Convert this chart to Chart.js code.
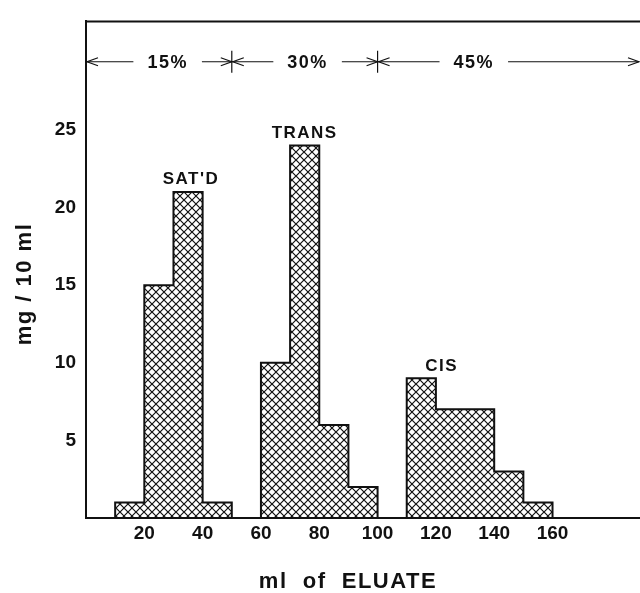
<!DOCTYPE html>
<html>
<head>
<meta charset="utf-8">
<script src="https://cdn.jsdelivr.net/npm/chart.js@4.4.0/dist/chart.umd.min.js"></script>
<style>
html, body { margin: 0; padding: 0; background: #fff; }
#wrap { width: 640px; height: 593px; }
</style>
</head>
<body>
<div id="wrap"><canvas id="grafico"></canvas></div>
<script>
// Frações de 10 ml: x = início da fração (ml), y = mg / 10 ml
const binWidth = 10;
const satdBins = [10, 20, 30, 40];
const satdMg = [1, 15, 21, 1];
const transBins = [60, 70, 80, 90];
const transMg = [10, 24, 6, 2];
const cisBins = [110, 120, 130, 140, 150];
const cisMg = [9, 7, 7, 3, 1];

const xTicks = [20, 40, 60, 80, 100, 120, 140, 160];
const yTicks = [5, 10, 15, 20, 25];

// Faixas de solvente no topo
const solventLabels = ['15%', '30%', '45%'];
const solventFrom = [0, 50, 100];
const solventTo = [50, 100, 190];
const solventTextAt = [28, 76, 133];

const groupNames = ["SAT'D", 'TRANS', 'CIS'];
const groupLabelAt = [36, 75, 122];
const groupMg = [satdMg, transMg, cisMg];

const FONTE = '"Liberation Sans", Arial, sans-serif';

// Padrão quadriculado (hachura cruzada)
function hachura() {
    const c = document.createElement('canvas');
    c.width = 8;
    c.height = 8;
    const g = c.getContext('2d');
    g.strokeStyle = '#111';
    g.lineWidth = 1.2;
    g.beginPath();
    g.moveTo(-1, -1); g.lineTo(9, 9);
    g.moveTo(9, -1); g.lineTo(-1, 9);
    g.stroke();
    return g.createPattern(c, 'repeat');
}

// Contorno do histograma a partir das frações
function contorno(bins, mg) {
    const pts = [{ x: bins[0], y: 0 }];
    bins.forEach((b, i) => pts.push({ x: b, y: mg[i] }));
    pts.push({ x: bins[bins.length - 1] + binWidth, y: 0 });
    return pts;
}

function serie(nome, bins, mg) {
    return {
        label: nome,
        data: contorno(bins, mg),
        stepped: 'before',
        borderColor: '#111',
        borderWidth: 2,
        backgroundColor: hachura(),
        fill: 'origin',
        pointRadius: 0,
        tension: 0
    };
}

function seta(ctx, x, y, dir) {
    ctx.beginPath();
    ctx.moveTo(x - dir * 11, y - 4);
    ctx.lineTo(x, y);
    ctx.lineTo(x - dir * 11, y + 4);
    ctx.stroke();
}

const anotacoes = {
    id: 'anotacoes',
    afterDatasetsDraw(chart) {
        const ctx = chart.ctx;
        const area = chart.chartArea;
        const xs = chart.scales.x;
        const ys = chart.scales.y;
        ctx.save();

        // moldura superior
        ctx.strokeStyle = '#111';
        ctx.lineWidth = 2;
        ctx.beginPath();
        ctx.moveTo(area.left, area.top);
        ctx.lineTo(area.right, area.top);
        ctx.stroke();

        // rótulos dos grupos
        ctx.fillStyle = '#111';
        ctx.font = 'bold 17px ' + FONTE;
        ctx.letterSpacing = '1.5px';
        ctx.textAlign = 'center';
        ctx.textBaseline = 'bottom';
        groupNames.forEach((nome, i) => {
            const topo = Math.max(...groupMg[i]);
            ctx.fillText(nome, xs.getPixelForValue(groupLabelAt[i]), ys.getPixelForValue(topo) - 4);
        });

        // faixas de solvente
        const yl = ys.getPixelForValue(29.4);
        ctx.lineWidth = 1.2;
        ctx.font = 'bold 18px ' + FONTE;
        ctx.textBaseline = 'middle';
        solventLabels.forEach((txt, i) => {
            const x0 = xs.getPixelForValue(solventFrom[i]);
            const x1 = Math.min(xs.getPixelForValue(solventTo[i]), area.right - 1);
            const xt = xs.getPixelForValue(solventTextAt[i]);
            const meia = ctx.measureText(txt).width / 2 + 14;
            ctx.fillText(txt, xt, yl + 1);
            ctx.beginPath();
            ctx.moveTo(x0, yl);
            ctx.lineTo(xt - meia, yl);
            ctx.moveTo(xt + meia, yl);
            ctx.lineTo(x1, yl);
            ctx.stroke();
            seta(ctx, x0 + 1, yl, -1);
            seta(ctx, x1, yl, 1);
            if (i > 0) {
                ctx.beginPath();
                ctx.moveTo(x0, yl - 11);
                ctx.lineTo(x0, yl + 11);
                ctx.stroke();
            }
        });

        // títulos dos eixos
        ctx.font = 'bold 22px ' + FONTE;
        ctx.letterSpacing = '1.5px';
        ctx.textBaseline = 'middle';
        ctx.fillText('ml  of  ELUATE', 348, 582);
        ctx.translate(25, 284);
        ctx.rotate(-Math.PI / 2);
        ctx.fillText('mg / 10 ml', 0, 0);
        ctx.restore();
    }
};

const ctx = document.getElementById('grafico').getContext('2d');
new Chart(ctx, {
    type: 'line',
    data: {
        datasets: [
            serie(groupNames[0], satdBins, satdMg),
            serie(groupNames[1], transBins, transMg),
            serie(groupNames[2], cisBins, cisMg)
        ]
    },
    options: {
        responsive: true,
        maintainAspectRatio: false,
        animation: false,
        layout: { padding: { top: 14, right: 0, left: 0, bottom: 0 } },
        plugins: {
            legend: { display: false },
            tooltip: { enabled: false }
        },
        scales: {
            x: {
                type: 'linear',
                min: 0,
                max: 190,
                afterBuildTicks: (s) => { s.ticks = xTicks.map(v => ({ value: v })); },
                afterFit: (s) => { s.height = 75; },
                grid: { display: false, drawTicks: false },
                border: { display: true, color: '#111', width: 2 },
                ticks: {
                    color: '#111',
                    font: { family: FONTE, size: 19, weight: 'bold' },
                    padding: 4,
                    maxRotation: 0,
                    autoSkip: false
                }
            },
            y: {
                type: 'linear',
                min: 0,
                max: 32,
                afterBuildTicks: (s) => { s.ticks = yTicks.map(v => ({ value: v })); },
                afterFit: (s) => { s.width = 86; },
                grid: { display: false, drawTicks: false },
                border: { display: true, color: '#111', width: 2 },
                ticks: {
                    color: '#111',
                    font: { family: FONTE, size: 19, weight: 'bold' },
                    padding: 10
                }
            }
        }
    },
    plugins: [anotacoes]
});
</script>
</body>
</html>
